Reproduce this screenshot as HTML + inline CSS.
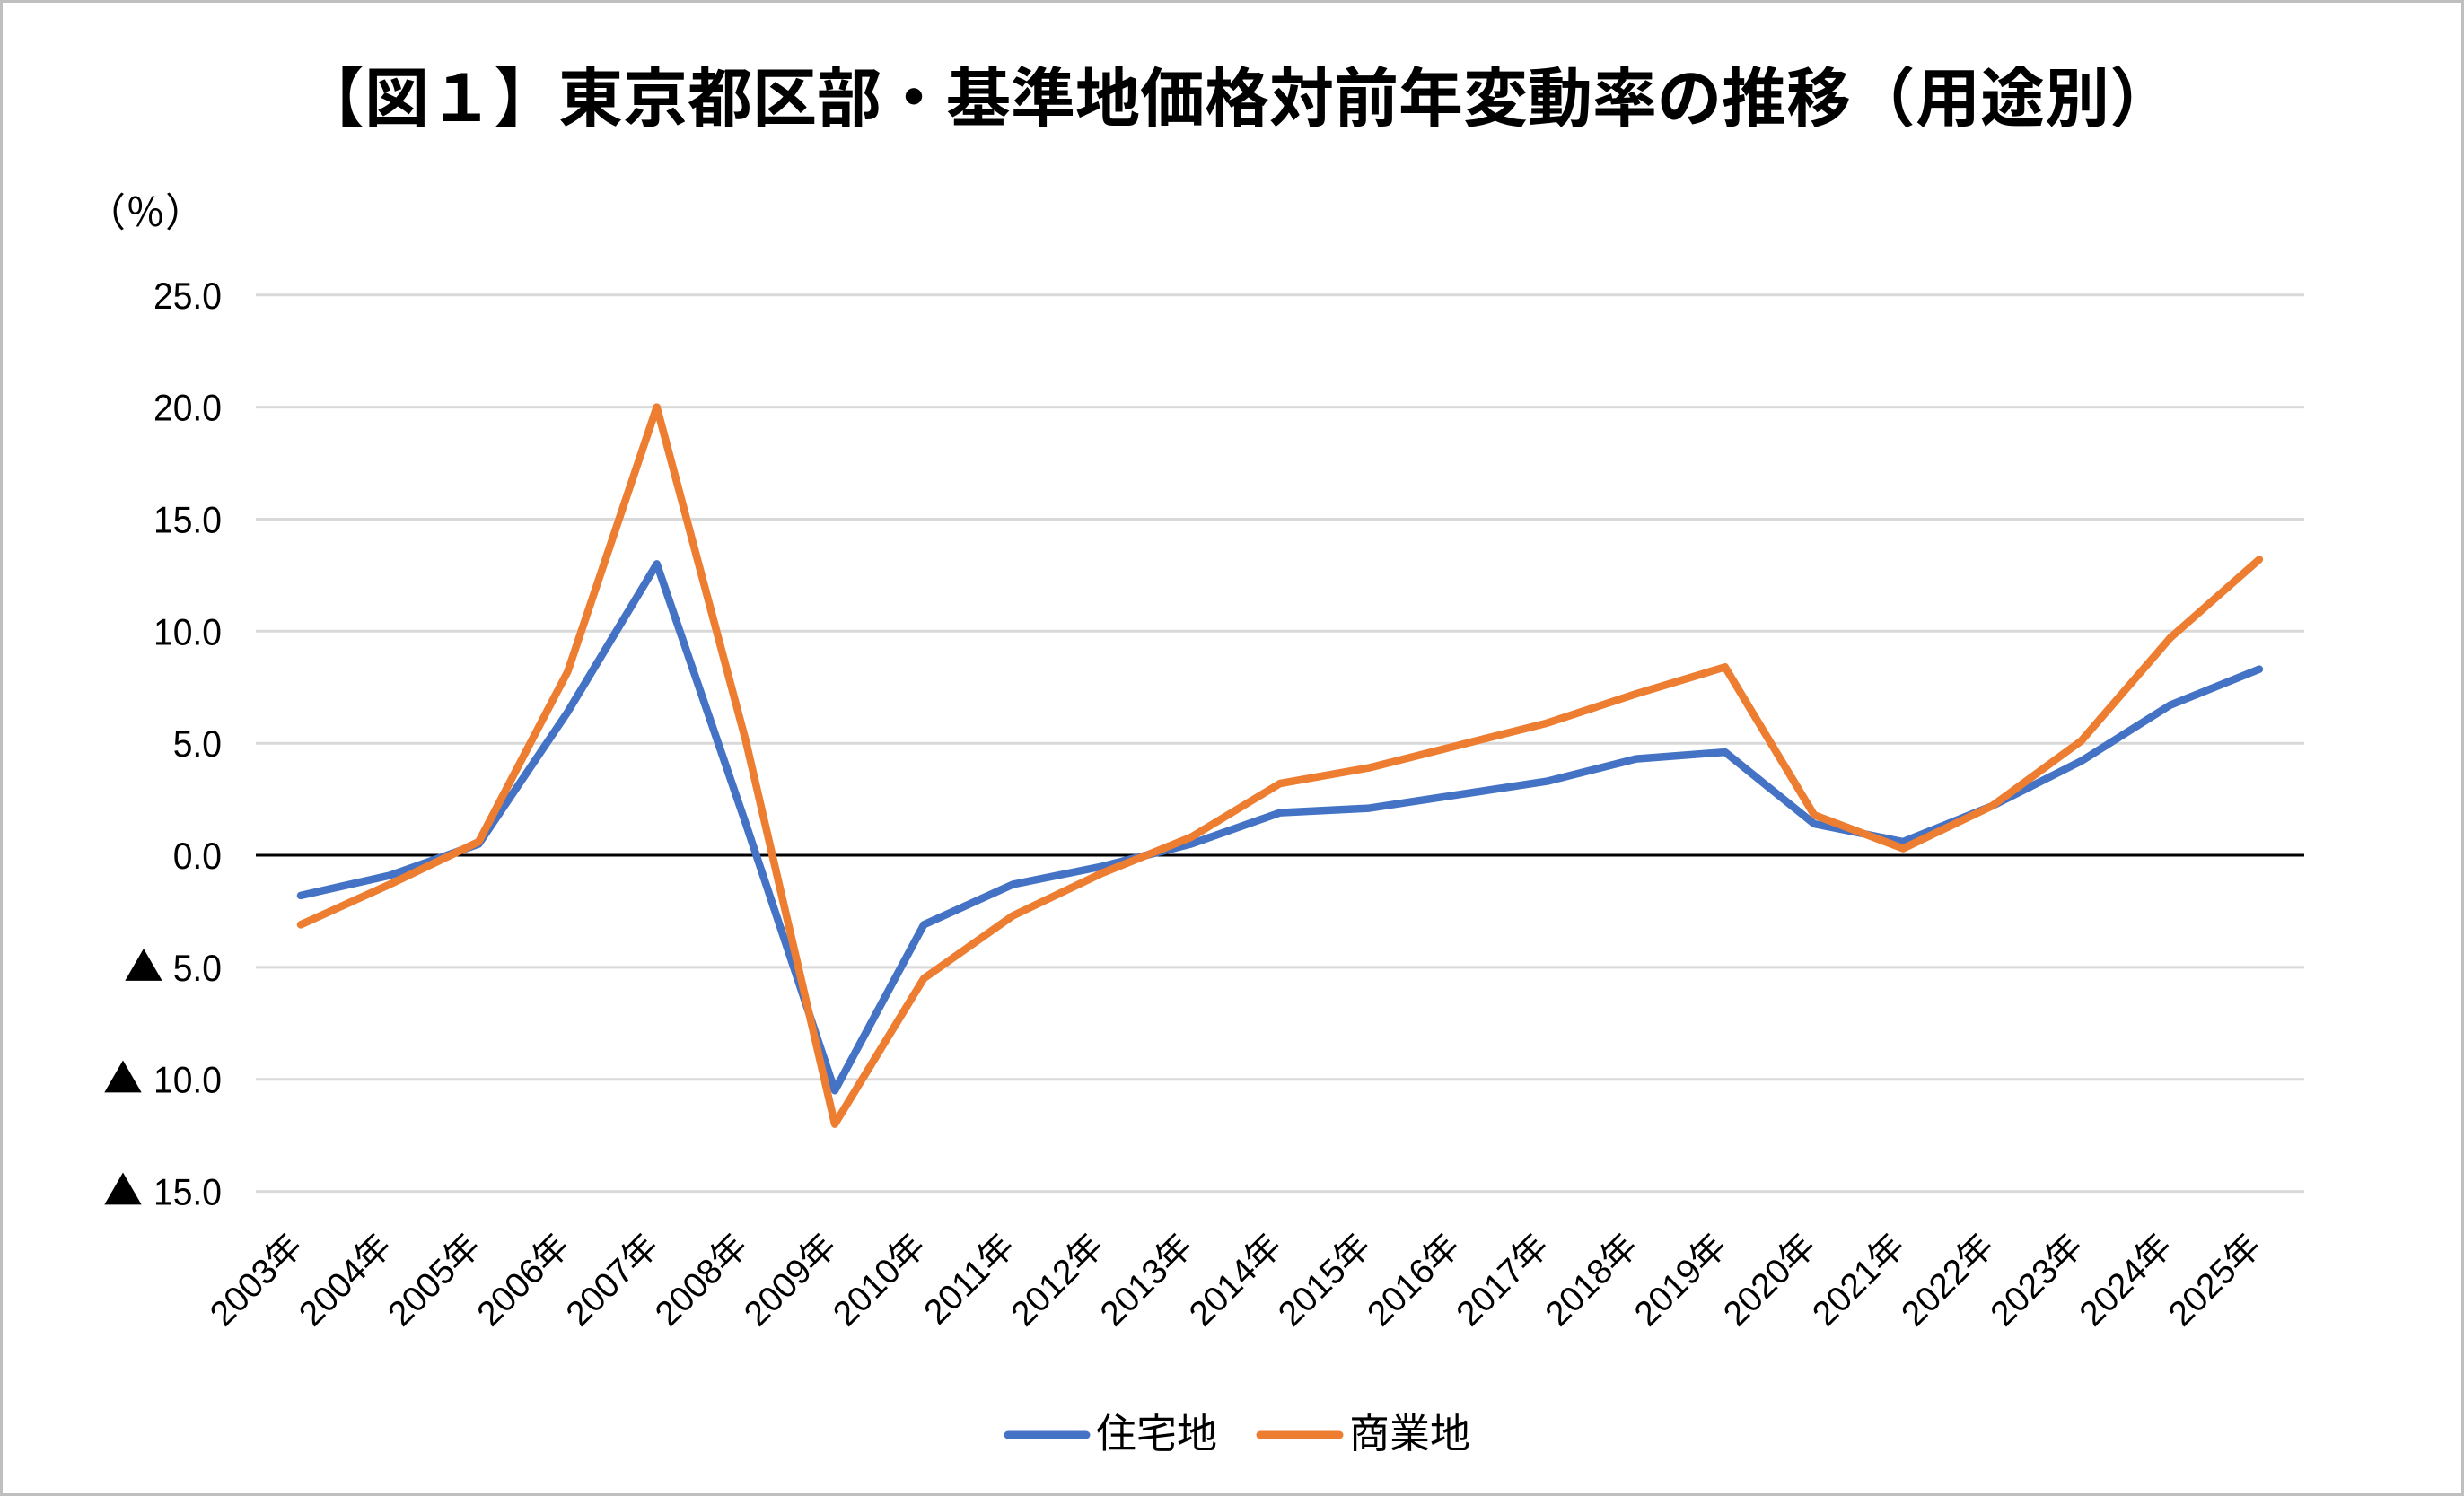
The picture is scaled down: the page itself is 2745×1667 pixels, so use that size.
<!DOCTYPE html>
<html lang="ja">
<head>
<meta charset="utf-8">
<style>
  html, body { margin: 0; padding: 0; background: #ffffff; }
  body { width: 2745px; height: 1667px; overflow: hidden; }
  svg { display: block; }
  .ylab { font-family: "Liberation Sans", "Noto Sans CJK JP", sans-serif; font-size: 42px; fill: #000; }
  .tri { font-family: "Noto Sans CJK JP", "DejaVu Sans", sans-serif; font-size: 44px; fill: #000; }
  .xlab { font-family: "Liberation Sans", "Noto Sans CJK JP", sans-serif; font-size: 39px; fill: #000; }
  .leg { font-family: "Liberation Sans", "Noto Sans CJK JP", sans-serif; font-size: 45px; fill: #000; }
  .title { font-family: "Liberation Sans", "Noto Sans CJK JP", sans-serif; font-size: 72px; font-weight: bold; fill: #000; }
</style>
</head>
<body>
<svg width="2745" height="1667" viewBox="0 0 2745 1667" xmlns="http://www.w3.org/2000/svg">
  <rect x="0" y="0" width="2745" height="1667" fill="#ffffff"/>
  <rect x="1.5" y="1.5" width="2742" height="1664" fill="none" stroke="#bfbfbf" stroke-width="3"/>

  <!-- Title -->
  <text class="title" x="334" y="135">【図１】東京都区部・基準地価格対前年変動率の推移（用途別）</text>

  <!-- unit -->
  <text x="96" y="252" style="font-family:'Noto Sans CJK JP','Liberation Sans',sans-serif;font-size:44px;fill:#000;">（％）</text>

  <!-- gridlines -->
  <g stroke="#d9d9d9" stroke-width="3">
    <line x1="285" y1="328.8" x2="2567" y2="328.8"/>
    <line x1="285" y1="453.6" x2="2567" y2="453.6"/>
    <line x1="285" y1="578.5" x2="2567" y2="578.5"/>
    <line x1="285" y1="703.3" x2="2567" y2="703.3"/>
    <line x1="285" y1="828.2" x2="2567" y2="828.2"/>
    <line x1="285" y1="1077.9" x2="2567" y2="1077.9"/>
    <line x1="285" y1="1202.7" x2="2567" y2="1202.7"/>
    <line x1="285" y1="1327.6" x2="2567" y2="1327.6"/>
  </g>
  <line x1="285" y1="953" x2="2567" y2="953" stroke="#000000" stroke-width="3"/>

  <!-- y labels -->
  <text class="ylab" text-anchor="end" transform="translate(247,343.8) scale(0.93,1)">25.0</text>
  <text class="ylab" text-anchor="end" transform="translate(247,468.6) scale(0.93,1)">20.0</text>
  <text class="ylab" text-anchor="end" transform="translate(247,593.5) scale(0.93,1)">15.0</text>
  <text class="ylab" text-anchor="end" transform="translate(247,718.3) scale(0.93,1)">10.0</text>
  <text class="ylab" text-anchor="end" transform="translate(247,843.2) scale(0.93,1)">5.0</text>
  <text class="ylab" text-anchor="end" transform="translate(247,968) scale(0.93,1)">0.0</text>
  <text class="ylab" text-anchor="end" transform="translate(247,1092.9) scale(0.93,1)">5.0</text>
  <text class="ylab" text-anchor="end" transform="translate(247,1217.7) scale(0.93,1)">10.0</text>
  <text class="ylab" text-anchor="end" transform="translate(247,1342.6) scale(0.93,1)">15.0</text>
  <text class="tri" x="138" y="1092.9">▲</text>
  <text class="tri" x="115" y="1217.7">▲</text>
  <text class="tri" x="115" y="1342.6">▲</text>

  <!-- series -->
  <polyline fill="none" stroke="#4472c4" stroke-width="8.5" stroke-linejoin="round" stroke-linecap="round"
    points="335.0,997.9 434.2,975.5 533.3,940.5 632.5,793.2 731.7,628.4 830.9,918.0 930.0,1215.2 1029.2,1030.4 1128.4,985.5 1227.6,965.5 1326.8,940.5 1425.9,905.6 1525.1,900.6 1624.3,885.6 1723.5,870.6 1822.6,845.6 1921.8,838.1 2021.0,918.0 2120.2,938.0 2219.3,898.1 2318.5,848.1 2417.7,785.7 2516.9,745.7"/>
  <polyline fill="none" stroke="#ed7d31" stroke-width="8.5" stroke-linejoin="round" stroke-linecap="round"
    points="335.0,1030.4 434.2,985.5 533.3,938.0 632.5,748.2 731.7,453.6 830.9,825.7 930.0,1252.6 1029.2,1090.3 1128.4,1020.4 1227.6,973.0 1326.8,933.0 1425.9,873.1 1525.1,855.6 1624.3,830.6 1723.5,805.7 1822.6,773.2 1921.8,743.3 2021.0,908.1 2120.2,945.5 2219.3,898.1 2318.5,825.7 2417.7,710.8 2516.9,623.4"/>

  <!-- x labels -->
  <g class="xlab" text-anchor="end">
    <text transform="translate(339.0,1391) rotate(-45)">2003年</text>
    <text transform="translate(438.2,1391) rotate(-45)">2004年</text>
    <text transform="translate(537.3,1391) rotate(-45)">2005年</text>
    <text transform="translate(636.5,1391) rotate(-45)">2006年</text>
    <text transform="translate(735.7,1391) rotate(-45)">2007年</text>
    <text transform="translate(834.9,1391) rotate(-45)">2008年</text>
    <text transform="translate(934.0,1391) rotate(-45)">2009年</text>
    <text transform="translate(1033.2,1391) rotate(-45)">2010年</text>
    <text transform="translate(1132.4,1391) rotate(-45)">2011年</text>
    <text transform="translate(1231.6,1391) rotate(-45)">2012年</text>
    <text transform="translate(1330.8,1391) rotate(-45)">2013年</text>
    <text transform="translate(1429.9,1391) rotate(-45)">2014年</text>
    <text transform="translate(1529.1,1391) rotate(-45)">2015年</text>
    <text transform="translate(1628.3,1391) rotate(-45)">2016年</text>
    <text transform="translate(1727.5,1391) rotate(-45)">2017年</text>
    <text transform="translate(1826.6,1391) rotate(-45)">2018年</text>
    <text transform="translate(1925.8,1391) rotate(-45)">2019年</text>
    <text transform="translate(2025.0,1391) rotate(-45)">2020年</text>
    <text transform="translate(2124.2,1391) rotate(-45)">2021年</text>
    <text transform="translate(2223.3,1391) rotate(-45)">2022年</text>
    <text transform="translate(2322.5,1391) rotate(-45)">2023年</text>
    <text transform="translate(2421.7,1391) rotate(-45)">2024年</text>
    <text transform="translate(2520.9,1391) rotate(-45)">2025年</text>
  </g>

  <!-- legend -->
  <line x1="1123" y1="1599" x2="1210" y2="1599" stroke="#4472c4" stroke-width="9" stroke-linecap="round"/>
  <text class="leg" x="1221" y="1613">住宅地</text>
  <line x1="1404" y1="1599" x2="1492" y2="1599" stroke="#ed7d31" stroke-width="9" stroke-linecap="round"/>
  <text class="leg" x="1503" y="1613">商業地</text>
</svg>
</body>
</html>
